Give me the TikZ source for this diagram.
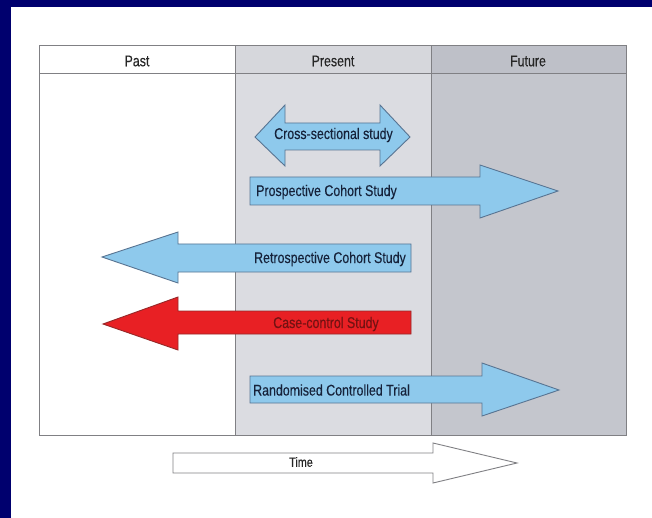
\documentclass[tikz,border=0pt]{standalone}
\usepackage{fontspec}
\setmainfont{Liberation Sans}[FakeStretch=0.8, FakeBold=0.25]
\definecolor{navy}{RGB}{0,0,110}
\definecolor{presentbg}{RGB}{219,220,225}
\definecolor{futurebg}{RGB}{196,198,205}
\definecolor{presenthd}{RGB}{214,215,220}
\definecolor{futurehd}{RGB}{190,192,200}
\definecolor{gridline}{RGB}{128,128,132}
\definecolor{skyfill}{RGB}{142,201,236}
\definecolor{skyedge}{RGB}{88,116,146}
\definecolor{redfill}{RGB}{232,32,36}
\definecolor{rededge}{RGB}{150,40,40}
\definecolor{redtext}{RGB}{115,18,18}
\definecolor{bluetext}{RGB}{22,34,58}
\tikzset{
  colline/.style={draw=gridline, line width=1pt},
  studyarrow/.style={fill=skyfill, draw=skyedge, line width=0.9pt, line join=miter},
  casearrow/.style={fill=redfill, draw=rededge, line width=0.9pt, line join=miter},
  timearrow/.style={fill=white, draw=gridline, line width=0.9pt, line join=miter},
  label/.style={font=\fontsize{15.5}{17}\selectfont, text=bluetext, inner sep=0pt},
  header/.style={font=\fontsize{15.5}{17}\selectfont, text=black!85, inner sep=0pt}
}
\begin{document}
\begin{tikzpicture}[x=1pt,y=-1pt]
\useasboundingbox (0,0) rectangle (652,518);
% slide frame
\fill[white] (0,0) rectangle (652,518);
\fill[navy] (0,0) rectangle (652,7);
\fill[navy] (0,0) rectangle (11,518);

% time columns
\fill[presentbg] (235,46) rectangle (431,435);
\fill[futurebg] (431,46) rectangle (626,435);
\fill[presenthd] (235,46) rectangle (431,74);
\fill[futurehd] (431,46) rectangle (626,74);
\draw[colline] (39.5,46) rectangle (626,435);
\draw[colline] (39.5,74) -- (626,74);
\draw[colline] (235,46) -- (235,435);
\draw[colline] (431,46) -- (431,435);
\node[header] (past) at (137,61) {Past};
\node[header] (present) at (333,61) {Present};
\node[header] (future) at (528,61) {Future};

% cross-sectional study (both directions)
\draw[studyarrow] (255,137) -- (285,105) -- (285,123) -- (380,123) -- (380,105)
  -- (410,137) -- (380,166) -- (380,150) -- (285,150) -- (285,166) -- cycle;
\node[label] (cross) at (333.5,135) {Cross-sectional study};

% prospective cohort study
\draw[studyarrow] (250,177) -- (480,177) -- (480,165) -- (558,191) -- (480,218)
  -- (480,205) -- (250,205) -- cycle;
\node[label, anchor=west] (prosp) at (256,192) {Prospective Cohort Study};

% retrospective cohort study
\draw[studyarrow] (411,244) -- (178,244) -- (178,232) -- (102,257) -- (178,283)
  -- (178,272) -- (411,272) -- cycle;
\node[label, anchor=east] (retro) at (406,259) {Retrospective Cohort Study};

% case-control study
\draw[casearrow] (411,311) -- (178,311) -- (178,297) -- (103,324) -- (178,350)
  -- (178,334) -- (411,334) -- cycle;
\node[label, text=redtext] (casectl) at (326,324) {Case-control Study};

% randomised controlled trial
\draw[studyarrow] (250,376) -- (482,376) -- (482,363) -- (559,390) -- (482,416)
  -- (482,403) -- (250,403) -- cycle;
\node[label, anchor=west] (rct) at (253,390) {Randomised Controlled Trial};

% time axis
\draw[timearrow] (173,453) -- (433,453) -- (433,443) -- (517,463) -- (433,483)
  -- (433,473) -- (173,473) -- cycle;
\node[header, font=\fontsize{13.5}{15}\selectfont] (time) at (301,462) {Time};
\end{tikzpicture}
\end{document}
